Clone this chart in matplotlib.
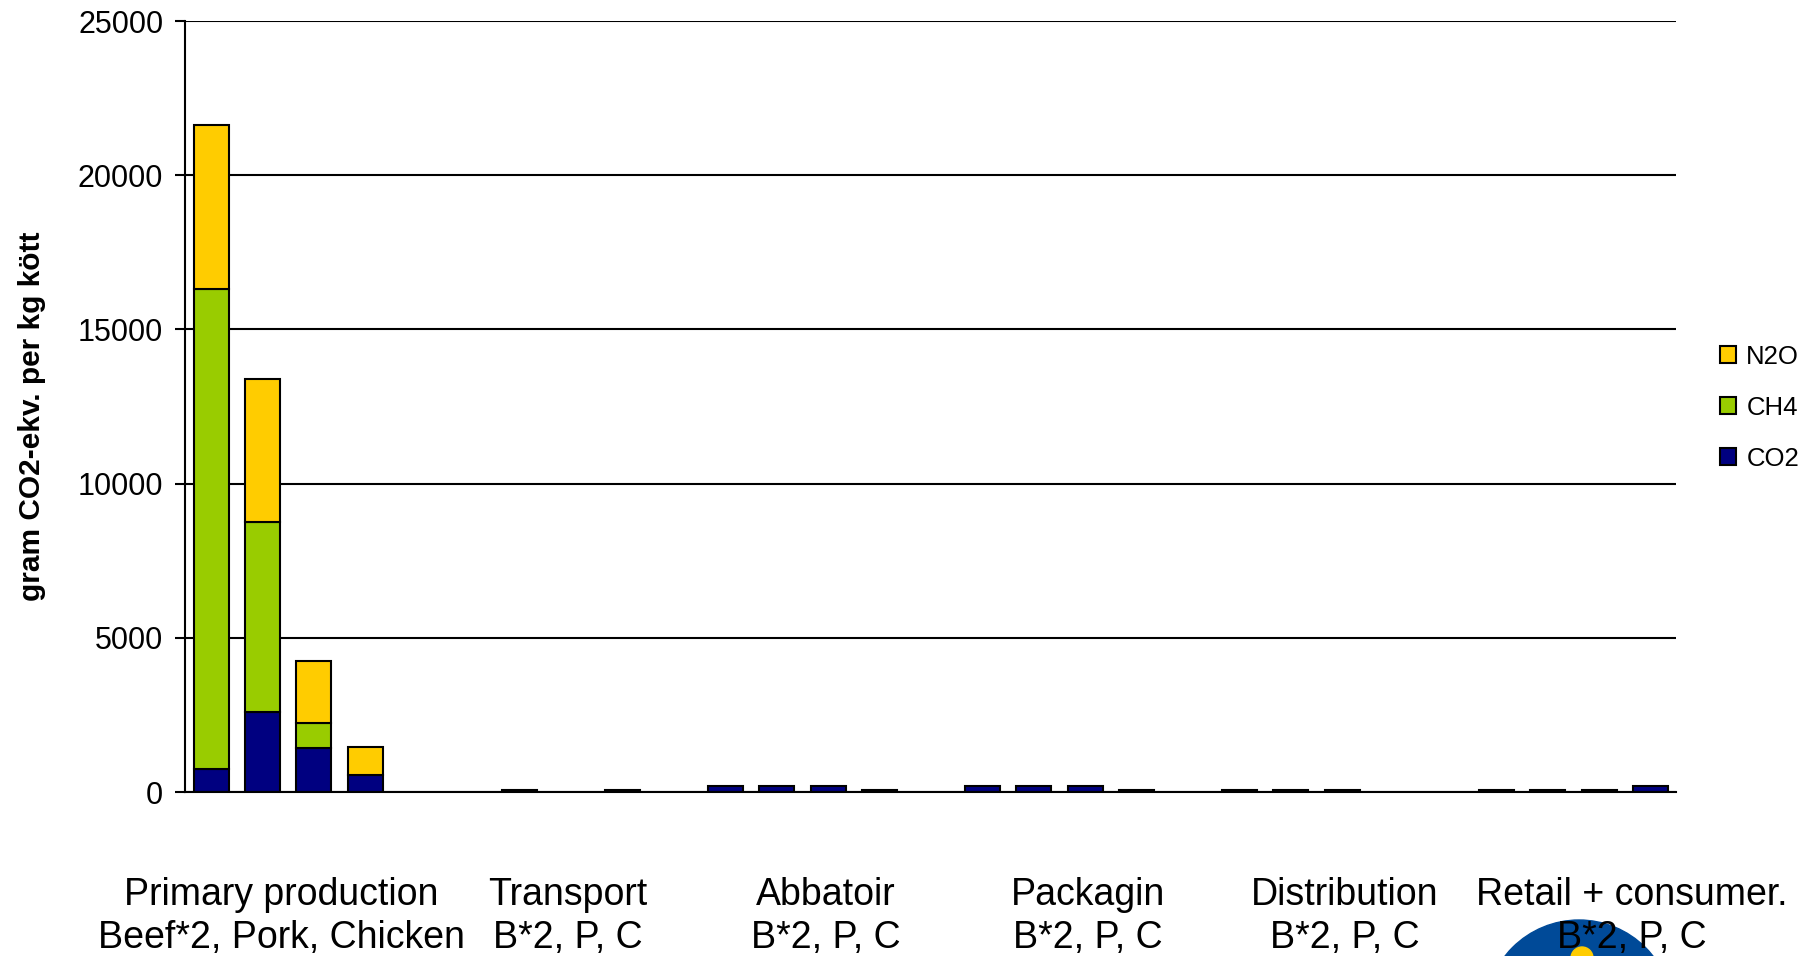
import matplotlib.pyplot as plt
import numpy as np
from matplotlib.patches import Circle
from matplotlib.transforms import blended_transform_factory

# 29 slots: six chain stages, four products each (Beef*2, Pork, Chicken), one empty slot between stages
CO2 = [740, 2590, 1440, 540, 0,
       0, 70, 0, 70, 0,
       180, 180, 180, 70, 0,
       180, 180, 180, 70, 0,
       70, 70, 70, 0, 0,
       70, 70, 70, 180]
CH4 = [15560, 6180, 790, 0] + [0] * 25
N2O = [5330, 4620, 2020, 910] + [0] * 25

STAGES = ["Primary production", "Transport", "Abbatoir", "Packagin",
          "Distribution", "Retail + consumer."]
PRODUCTS = ["Beef*2, Pork, Chicken", "B*2, P, C", "B*2, P, C", "B*2, P, C",
            "B*2, P, C", "B*2, P, C"]
STAGE_X = [1.37, 6.94, 11.96, 17.05, 22.05, 27.64]   # label centres, in slot units

Y_TICKS = [0, 5000, 10000, 15000, 20000, 25000]
Y_LABEL = "gram CO2-ekv. per kg kött"

COLORS = {"CO2": "#000080", "CH4": "#99CC00", "N2O": "#FFCC00"}
EDGE_LW = 1.5

plt.rcParams["font.family"] = ["Liberation Sans", "DejaVu Sans"]


def stacked(ax, x, heights, bottoms, color, label):
    h = np.asarray(heights, dtype=float)
    b = np.asarray(bottoms, dtype=float)
    keep = h > 0
    ax.bar(x[keep], h[keep], bottom=b[keep], width=0.68, color=color,
           edgecolor="black", linewidth=EDGE_LW, label=label, zorder=3)


def main() -> None:
    fig = plt.figure(figsize=(18.18, 9.56), dpi=100)
    ax = fig.add_axes([0.1020, 0.1715, 0.8201, 0.8065])

    x = np.arange(len(CO2))
    co2 = np.array(CO2, dtype=float)
    ch4 = np.array(CH4, dtype=float)
    stacked(ax, x, CO2, np.zeros_like(co2), COLORS["CO2"], "CO2")
    stacked(ax, x, CH4, co2, COLORS["CH4"], "CH4")
    stacked(ax, x, N2O, co2 + ch4, COLORS["N2O"], "N2O")

    ax.set_xlim(-0.5, len(CO2) - 0.5)
    ax.set_ylim(0, 25000)
    ax.set_yticks(Y_TICKS)
    ax.set_xticks([])
    ax.tick_params(axis="y", labelsize=22, length=7, width=EDGE_LW, pad=9)
    ax.yaxis.grid(True, color="black", linewidth=EDGE_LW)
    ax.set_axisbelow(True)
    for side in ("top", "right"):
        ax.spines[side].set_visible(False)
    for side in ("left", "bottom"):
        ax.spines[side].set_linewidth(EDGE_LW)
        ax.spines[side].set_zorder(4)

    fig.text(0.0175, 0.565, Y_LABEL, rotation=90, fontsize=21.5,
             fontweight="bold", ha="center", va="center")

    handles, labels = ax.get_legend_handles_labels()
    fig.legend(handles[::-1], labels[::-1], loc="center left",
               bbox_to_anchor=(0.9405, 0.5735), frameon=False, fontsize=18.5,
               handlelength=0.62, handleheight=0.62, handletextpad=0.4,
               labelspacing=1.05, borderaxespad=0)

    # logo disc peeking in at the bottom edge, kept under the labels
    fig.patches.append(Circle((15.79, -0.58), 0.94, color="#004A98",
                              transform=fig.dpi_scale_trans, zorder=-1))
    fig.patches.append(Circle((15.82, -0.02), 0.11, color="#FFCC00",
                              transform=fig.dpi_scale_trans, zorder=-1))

    trans = blended_transform_factory(ax.transData, fig.transFigure)
    for xs, stage, prod in zip(STAGE_X, STAGES, PRODUCTS):
        ax.text(xs, 51 / 956, stage, transform=trans, fontsize=27,
                ha="center", va="baseline", clip_on=False)
        ax.text(xs, 8 / 956, prod, transform=trans, fontsize=27,
                ha="center", va="baseline", clip_on=False)

    fig.savefig("out.png", dpi=100)
    plt.close(fig)


if __name__ == "__main__":
    main()
